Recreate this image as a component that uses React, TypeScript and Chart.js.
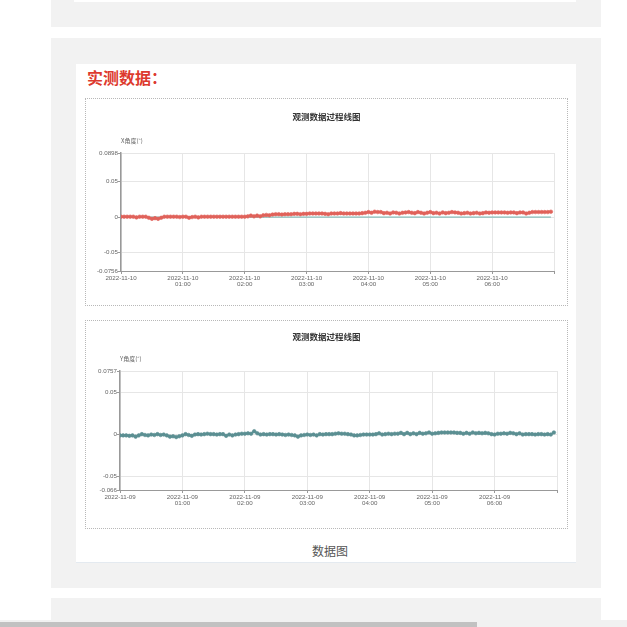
import React, { useEffect, useRef } from "react";
import { Chart, registerables } from "chart.js";

Chart.register(...registerables);

// ---------- data ----------
const sampleIntervalMin = 3;

const xTickLabels: (string | string[])[] = [
  "2022-11-10",
  ["2022-11-10", "01:00"],
  ["2022-11-10", "02:00"],
  ["2022-11-10", "03:00"],
  ["2022-11-10", "04:00"],
  ["2022-11-10", "05:00"],
  ["2022-11-10", "06:00"],
];

const yTickLabels: (string | string[])[] = [
  "2022-11-09",
  ["2022-11-09", "01:00"],
  ["2022-11-09", "02:00"],
  ["2022-11-09", "03:00"],
  ["2022-11-09", "04:00"],
  ["2022-11-09", "05:00"],
  ["2022-11-09", "06:00"],
];

const xAxisTicks = [-0.0756, -0.05, 0, 0.05, 0.0898];
const yAxisTicks = [-0.066, -0.05, 0, 0.05, 0.0757];

// X 角度 (°), one sample every 3 minutes
const xAngle = [
  0.0005, 0.0005, 0.0005, 0.0005, 0.0005, -0.0005, 0.0005, 0.0005, 0.0005, -0.001,
  -0.0025, -0.0015, -0.0025, -0.001, 0.0005, 0.0005, 0.0005, 0.0005, 0.0005, 0.0,
  0.0005, 0.0005, -0.001, 0.0, 0.0005, -0.0005, 0.0005, 0.0005, 0.0005, 0.0005,
  0.0005, 0.0005, 0.0005, 0.0005, 0.0005, 0.0005, 0.0005, 0.0005, 0.0005, 0.0005,
  0.0005, 0.001, 0.002, 0.001, 0.002, 0.001, 0.0025, 0.003, 0.0025, 0.0035,
  0.004, 0.004, 0.0035, 0.004, 0.004, 0.004, 0.0045, 0.0045, 0.004, 0.0045,
  0.0045, 0.005, 0.005, 0.005, 0.005, 0.005, 0.0045, 0.004, 0.005, 0.005,
  0.005, 0.0055, 0.005, 0.005, 0.005, 0.005, 0.005, 0.005, 0.0055, 0.006,
  0.007, 0.006, 0.0075, 0.007, 0.007, 0.0055, 0.006, 0.005, 0.0065, 0.006,
  0.005, 0.006, 0.0065, 0.007, 0.006, 0.0055, 0.007, 0.006, 0.005, 0.006,
  0.007, 0.0055, 0.006, 0.005, 0.0065, 0.0055, 0.006, 0.007, 0.0065, 0.006,
  0.005, 0.0055, 0.006, 0.005, 0.0055, 0.006, 0.005, 0.0055, 0.0065, 0.006,
  0.0065, 0.0065, 0.0065, 0.0065, 0.0065, 0.006, 0.0065, 0.0065, 0.0055, 0.0065,
  0.0065, 0.005, 0.006, 0.007, 0.007, 0.007, 0.007, 0.007, 0.007, 0.0075,
];

// reference (zero) line on the X chart
const xReference = [0, 0];

// Y 角度 (°), one sample every 3 minutes
const yAngle = [
  -0.001, -0.001, -0.001, -0.0015, -0.001, -0.0025, -0.001, 0.0005, -0.0005, -0.001,
  0.0, -0.0005, 0.0005, -0.0005, 0.0, -0.001, -0.0025, -0.002, -0.003, -0.002,
  -0.001, 0.0005, -0.0005, -0.0015, 0.0, 0.0005, 0.0, 0.0005, 0.001, 0.0005,
  0.0005, 0.0, 0.0005, 0.0005, -0.0015, 0.0, -0.001, 0.0, 0.0005, 0.001,
  0.001, 0.0015, 0.001, 0.004, 0.0015, 0.0, 0.0005, 0.0, 0.0005, 0.0005,
  0.0, 0.0005, 0.0, -0.0005, 0.0, -0.0005, -0.001, -0.0025, -0.001, -0.0005,
  0.0, -0.0005, 0.0, -0.001, 0.0005, 0.0, 0.0005, 0.0005, 0.0005, 0.001,
  0.0015, 0.001, 0.001, 0.0005, 0.0, -0.001, -0.001, -0.0005, 0.0, 0.0,
  0.0, 0.0, 0.0005, 0.0015, 0.0, 0.0005, 0.001, 0.0005, 0.001, 0.001,
  0.002, 0.0005, 0.002, 0.0005, 0.0015, 0.0005, 0.002, 0.001, 0.0015, 0.0025,
  0.001, 0.0015, 0.002, 0.0025, 0.0025, 0.0025, 0.0025, 0.0025, 0.002, 0.002,
  0.001, 0.002, 0.001, 0.0025, 0.0015, 0.002, 0.0015, 0.002, 0.0015, 0.0005,
  0.0, 0.001, 0.001, 0.0015, 0.001, 0.002, 0.0015, 0.0005, 0.0015, 0.0,
  0.0005, 0.0005, 0.0005, 0.0, 0.0005, 0.0005, 0.0, 0.0005, 0.0, 0.0025,
];

// ---------- styling ----------
const CJK = '"Noto Sans CJK SC", "Noto Sans", sans-serif';
const NUM = '"Liberation Sans", "DejaVu Sans", sans-serif';

const overlayPlugin = {
  id: "overlay",
  afterDraw(chart: any, _args: any, opts: any) {
    const { ctx, chartArea } = chart;
    ctx.save();
    ctx.font = `bold 8.5px ${CJK}`;
    ctx.fillStyle = "#333";
    ctx.textAlign = "center";
    ctx.textBaseline = "middle";
    ctx.fillText(opts.title, chart.width / 2, opts.titleY);
    ctx.font = `6px ${CJK}`;
    ctx.fillStyle = "#666";
    ctx.textAlign = "left";
    ctx.fillText(opts.name, chartArea.left, chartArea.top - 12);
    ctx.restore();
  },
};

type LineChartProps = {
  width: number;
  height: number;
  values: number[];
  color: string;
  pointColor: string;
  reference?: number[];
  referenceColor?: string;
  yTicks: number[];
  tickLabels: (string | string[])[];
  name: string;
  padTop: number;
  padRight: number;
  yWidth: number;
  xHeight: number;
  titleY: number;
};

function LineChart(p: LineChartProps) {
  const ref = useRef<HTMLCanvasElement | null>(null);
  useEffect(() => {
    if (!ref.current) return;
    const pts = p.values.map((v, i) => ({ x: i * sampleIntervalMin, y: v }));
    const lastT = (p.values.length - 1) * sampleIntervalMin;
    const datasets: any[] = [
      {
        data: pts,
        borderColor: p.color,
        backgroundColor: p.pointColor,
        borderWidth: 2,
        pointRadius: 1.8,
        pointBorderWidth: 0.6,
        pointBorderColor: p.pointColor,
        pointBackgroundColor: p.pointColor,
        tension: 0,
      },
    ];
    if (p.reference) {
      datasets.push({
        data: p.reference.map((v, i) => ({ x: i === 0 ? 0 : lastT, y: v })),
        borderColor: p.referenceColor,
        borderWidth: 1,
        pointRadius: 0,
      });
    }
    const chart = new Chart(ref.current, {
      type: "line",
      data: { datasets },
      plugins: [overlayPlugin as any],
      options: {
        animation: false,
        responsive: true,
        maintainAspectRatio: false,
        layout: { padding: { top: p.padTop, right: p.padRight, left: 0, bottom: 0 } },
        plugins: {
          legend: { display: false },
          tooltip: { enabled: false },
          overlay: { title: "观测数据过程线图", name: p.name, titleY: p.titleY },
        } as any,
        scales: {
          x: {
            type: "linear",
            min: 0,
            max: 420,
            afterFit: (s: any) => {
              s.height = p.xHeight;
            },
            ticks: {
              stepSize: 60,
              autoSkip: false,
              maxRotation: 0,
              minRotation: 0,
              padding: 1,
              color: "#666",
              font: { size: 6.2, family: NUM, lineHeight: 1.05 },
              callback: (v: any) => {
                const idx = Math.round(Number(v) / 60);
                return p.tickLabels[idx] ?? "";
              },
            },
            grid: { color: "#e6e6e6", tickLength: 3, tickColor: "#999" },
            border: { color: "#999", width: 1 },
          },
          y: {
            type: "linear",
            min: p.yTicks[0],
            max: p.yTicks[p.yTicks.length - 1],
            afterBuildTicks: (s: any) => {
              s.ticks = p.yTicks.map((v) => ({ value: v }));
            },
            afterFit: (s: any) => {
              s.width = p.yWidth;
            },
            ticks: {
              autoSkip: false,
              padding: 0,
              color: "#666",
              font: { size: 6.2, family: NUM },
              callback: (v: any) => String(v),
            },
            grid: { color: "#e6e6e6", tickLength: 3, tickColor: "#999" },
            border: { color: "#999", width: 1.5 },
          },
        },
      } as any,
    });
    return () => chart.destroy();
  }, []);
  return (
    <div style={{ position: "relative", width: p.width, height: p.height }}>
      <canvas ref={ref} />
    </div>
  );
}

const abs = (l: number, t: number, w: number, h: number, extra: React.CSSProperties = {}): React.CSSProperties => ({
  position: "absolute",
  left: l,
  top: t,
  width: w,
  height: h,
  ...extra,
});

export default function App() {
  return (
    <div style={{ position: "fixed", left: 0, top: 0, width: 627, height: 627, background: "#fff", overflow: "hidden" }}>
      {/* top grey block */}
      <div style={abs(51, 0, 550, 27, { background: "#f2f2f2" })} />
      <div style={abs(74, 0, 502, 2, { background: "#fff" })} />
      {/* main grey block */}
      <div style={abs(51, 38, 550, 550, { background: "#f2f2f2" })} />
      {/* card */}
      <div style={abs(76, 64, 500, 498, { background: "#fff", borderBottom: "1px solid #e4eaf0" })} />
      <div
        style={abs(87, 66, 200, 22, {
          color: "#dd3a2e",
          fontFamily: CJK,
          fontWeight: 700,
          fontSize: 16,
          lineHeight: "22px",
        })}
      >
        实测数据：
      </div>
      {/* chart box 1 */}
      <div style={abs(85, 98, 481, 206, { border: "1px dotted #b8b8b8" })}>
        <LineChart
          width={481}
          height={206}
          values={xAngle}
          color="#e0625a"
          pointColor="#e0625a"
          reference={xReference}
          referenceColor="#6fb0ac"
          yTicks={xAxisTicks}
          tickLabels={xTickLabels}
          name="X角度(°)"
          padTop={54}
          padRight={13}
          yWidth={35}
          xHeight={34}
          titleY={18}
        />
      </div>
      {/* chart box 2 */}
      <div style={abs(85, 320, 481, 207, { border: "1px dotted #b8b8b8" })}>
        <LineChart
          width={481}
          height={207}
          values={yAngle}
          color="#5f9c9e"
          pointColor="#5b8f92"
          yTicks={yAxisTicks}
          tickLabels={yTickLabels}
          name="Y角度(°)"
          padTop={50}
          padRight={10}
          yWidth={34}
          xHeight={38}
          titleY={16}
        />
      </div>
      <div
        style={abs(230, 541, 200, 20, {
          textAlign: "center",
          color: "#555",
          fontFamily: CJK,
          fontSize: 12,
          lineHeight: "20px",
        })}
      >
        数据图
      </div>
      {/* bottom grey block */}
      <div style={abs(51, 598, 550, 29, { background: "#f2f2f2" })} />
      {/* scrollbar */}
      <div style={abs(0, 620, 627, 7, { background: "#f1f1f1" })} />
      <div style={abs(0, 622, 477, 5, { background: "#c1c1c1" })} />
    </div>
  );
}
